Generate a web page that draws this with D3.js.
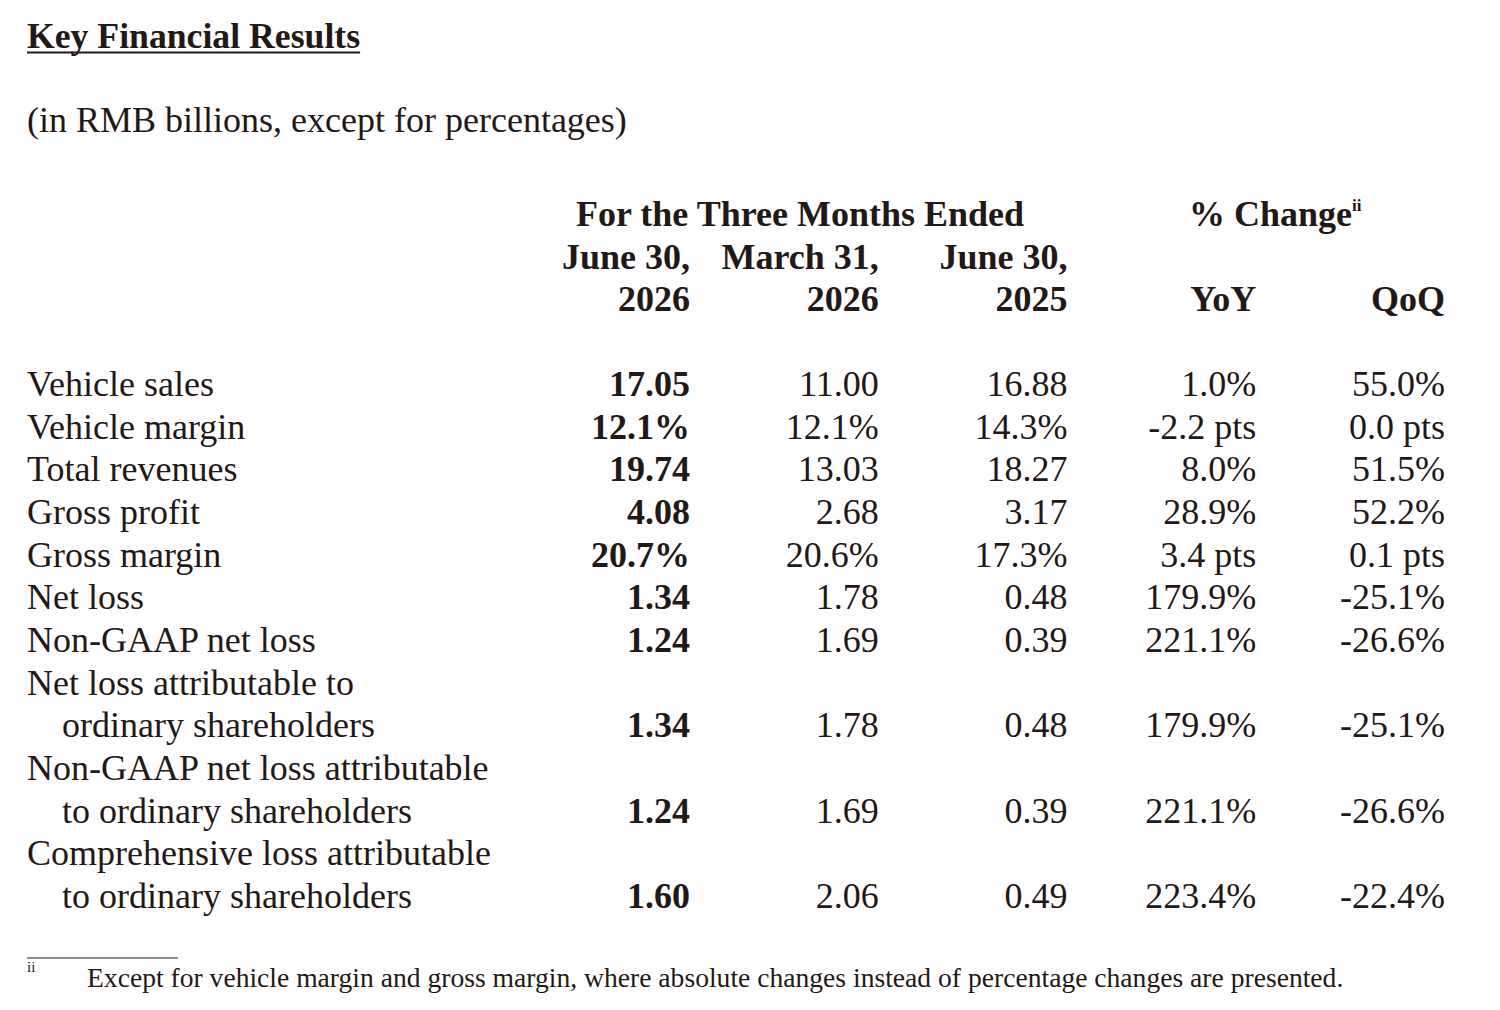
<!DOCTYPE html>
<html>
<head>
<meta charset="utf-8">
<script src="https://cdn.jsdelivr.net/npm/d3@7"></script>
<style>
  body { margin: 0; background: #fff; }
  svg { display: block; }
  text { font-family: "Liberation Serif", "Times New Roman", serif; fill: #231815; }
</style>
</head>
<body>
<svg id="chart" width="1500" height="1010"></svg>
<script>
// table contents
var title = "Key Financial Results";
var subtitle = "(in RMB billions, except for percentages)";
var groupHeader = "For the Three Months Ended";
var changeHeader = "% Change";
var columns = ["June 30,\n2026", "March 31,\n2026", "June 30,\n2025", "YoY", "QoQ"];
var rowLabels = [
  ["Vehicle sales"],
  ["Vehicle margin"],
  ["Total revenues"],
  ["Gross profit"],
  ["Gross margin"],
  ["Net loss"],
  ["Non-GAAP net loss"],
  ["Net loss attributable to", "ordinary shareholders"],
  ["Non-GAAP net loss attributable", "to ordinary shareholders"],
  ["Comprehensive loss attributable", "to ordinary shareholders"]
];
var q2_2026 = ["17.05", "12.1%", "19.74", "4.08", "20.7%", "1.34", "1.24", "1.34", "1.24", "1.60"];
var q1_2026 = ["11.00", "12.1%", "13.03", "2.68", "20.6%", "1.78", "1.69", "1.78", "1.69", "2.06"];
var q2_2025 = ["16.88", "14.3%", "18.27", "3.17", "17.3%", "0.48", "0.39", "0.48", "0.39", "0.49"];
var yoy = ["1.0%", "-2.2 pts", "8.0%", "28.9%", "3.4 pts", "179.9%", "221.1%", "179.9%", "221.1%", "223.4%"];
var qoq = ["55.0%", "0.0 pts", "51.5%", "52.2%", "0.1 pts", "-25.1%", "-26.6%", "-25.1%", "-26.6%", "-22.4%"];
var footnoteMark = "ii";
var footnote = "Except for vehicle margin and gross margin, where absolute changes instead of percentage changes are presented.";

var svg = d3.select("#chart");
var left = 27;
var fs = 36;

// title + underline
var t = svg.append("text")
  .attr("x", left).attr("y", 48)
  .attr("font-size", 35.7).attr("font-weight", "bold")
  .text(title);
var tw = t.node().getComputedTextLength();
svg.append("line")
  .attr("x1", left).attr("x2", left + tw)
  .attr("y1", 52.5).attr("y2", 52.5)
  .attr("stroke", "#231815").attr("stroke-width", 2);

svg.append("text")
  .attr("x", left).attr("y", 132)
  .attr("font-size", fs)
  .text(subtitle);

// column positions (right edges) and line positions
var x = d3.scalePoint().domain(d3.range(columns.length)).range([690, 1445]);

var lines = [];
rowLabels.forEach(function(lbl, i) {
  lbl.forEach(function(s, j) {
    lines.push({ text: s, indent: j > 0, row: i, last: j === lbl.length - 1 });
  });
});
var y = d3.scaleLinear().domain([0, lines.length - 1]).range([396, 908]);

// headers
var head = svg.append("g").attr("font-weight", "bold").attr("font-size", fs);
head.append("text")
  .attr("x", 800).attr("y", 226)
  .attr("text-anchor", "middle")
  .text(groupHeader);
var ch = head.append("text")
  .attr("x", 1189).attr("y", 226);
ch.append("tspan").text(changeHeader);
ch.append("tspan").attr("font-size", 17).attr("dy", -15).text(footnoteMark);

var hy = d3.scaleLinear().domain([0, 1]).range([268.5, 311]);
columns.forEach(function(c, i) {
  var parts = c.split("\n");
  var off = 2 - parts.length;
  parts.forEach(function(p, k) {
    head.append("text")
      .attr("x", x(i)).attr("y", hy(k + off))
      .attr("text-anchor", "end")
      .text(p);
  });
});

// row labels
svg.append("g").selectAll("text")
  .data(lines)
  .join("text")
  .attr("x", function(d) { return d.indent ? left + 35 : left; })
  .attr("y", function(d, i) { return y(i); })
  .attr("font-size", fs)
  .text(function(d) { return d.text; });

// values, on the last line of each row
var series = [q2_2026, q1_2026, q2_2025, yoy, qoq];
var rowLine = [];
lines.forEach(function(d, i) { if (d.last) rowLine[d.row] = i; });

series.forEach(function(vals, ci) {
  svg.append("g").selectAll("text")
    .data(vals)
    .join("text")
    .attr("x", x(ci))
    .attr("y", function(d, ri) { return y(rowLine[ri]); })
    .attr("text-anchor", "end")
    .attr("font-size", fs)
    .attr("font-weight", ci === 0 ? "bold" : "normal")
    .text(function(d) { return d; });
});

// footnote
svg.append("line")
  .attr("x1", left).attr("x2", 178)
  .attr("y1", 958).attr("y2", 958)
  .attr("stroke", "#231815").attr("stroke-width", 1.2);
svg.append("text")
  .attr("x", left).attr("y", 972)
  .attr("font-size", 15)
  .text(footnoteMark);
svg.append("text")
  .attr("x", 87).attr("y", 987)
  .attr("font-size", 27.6)
  .text(footnote);
</script>
</body>
</html>
